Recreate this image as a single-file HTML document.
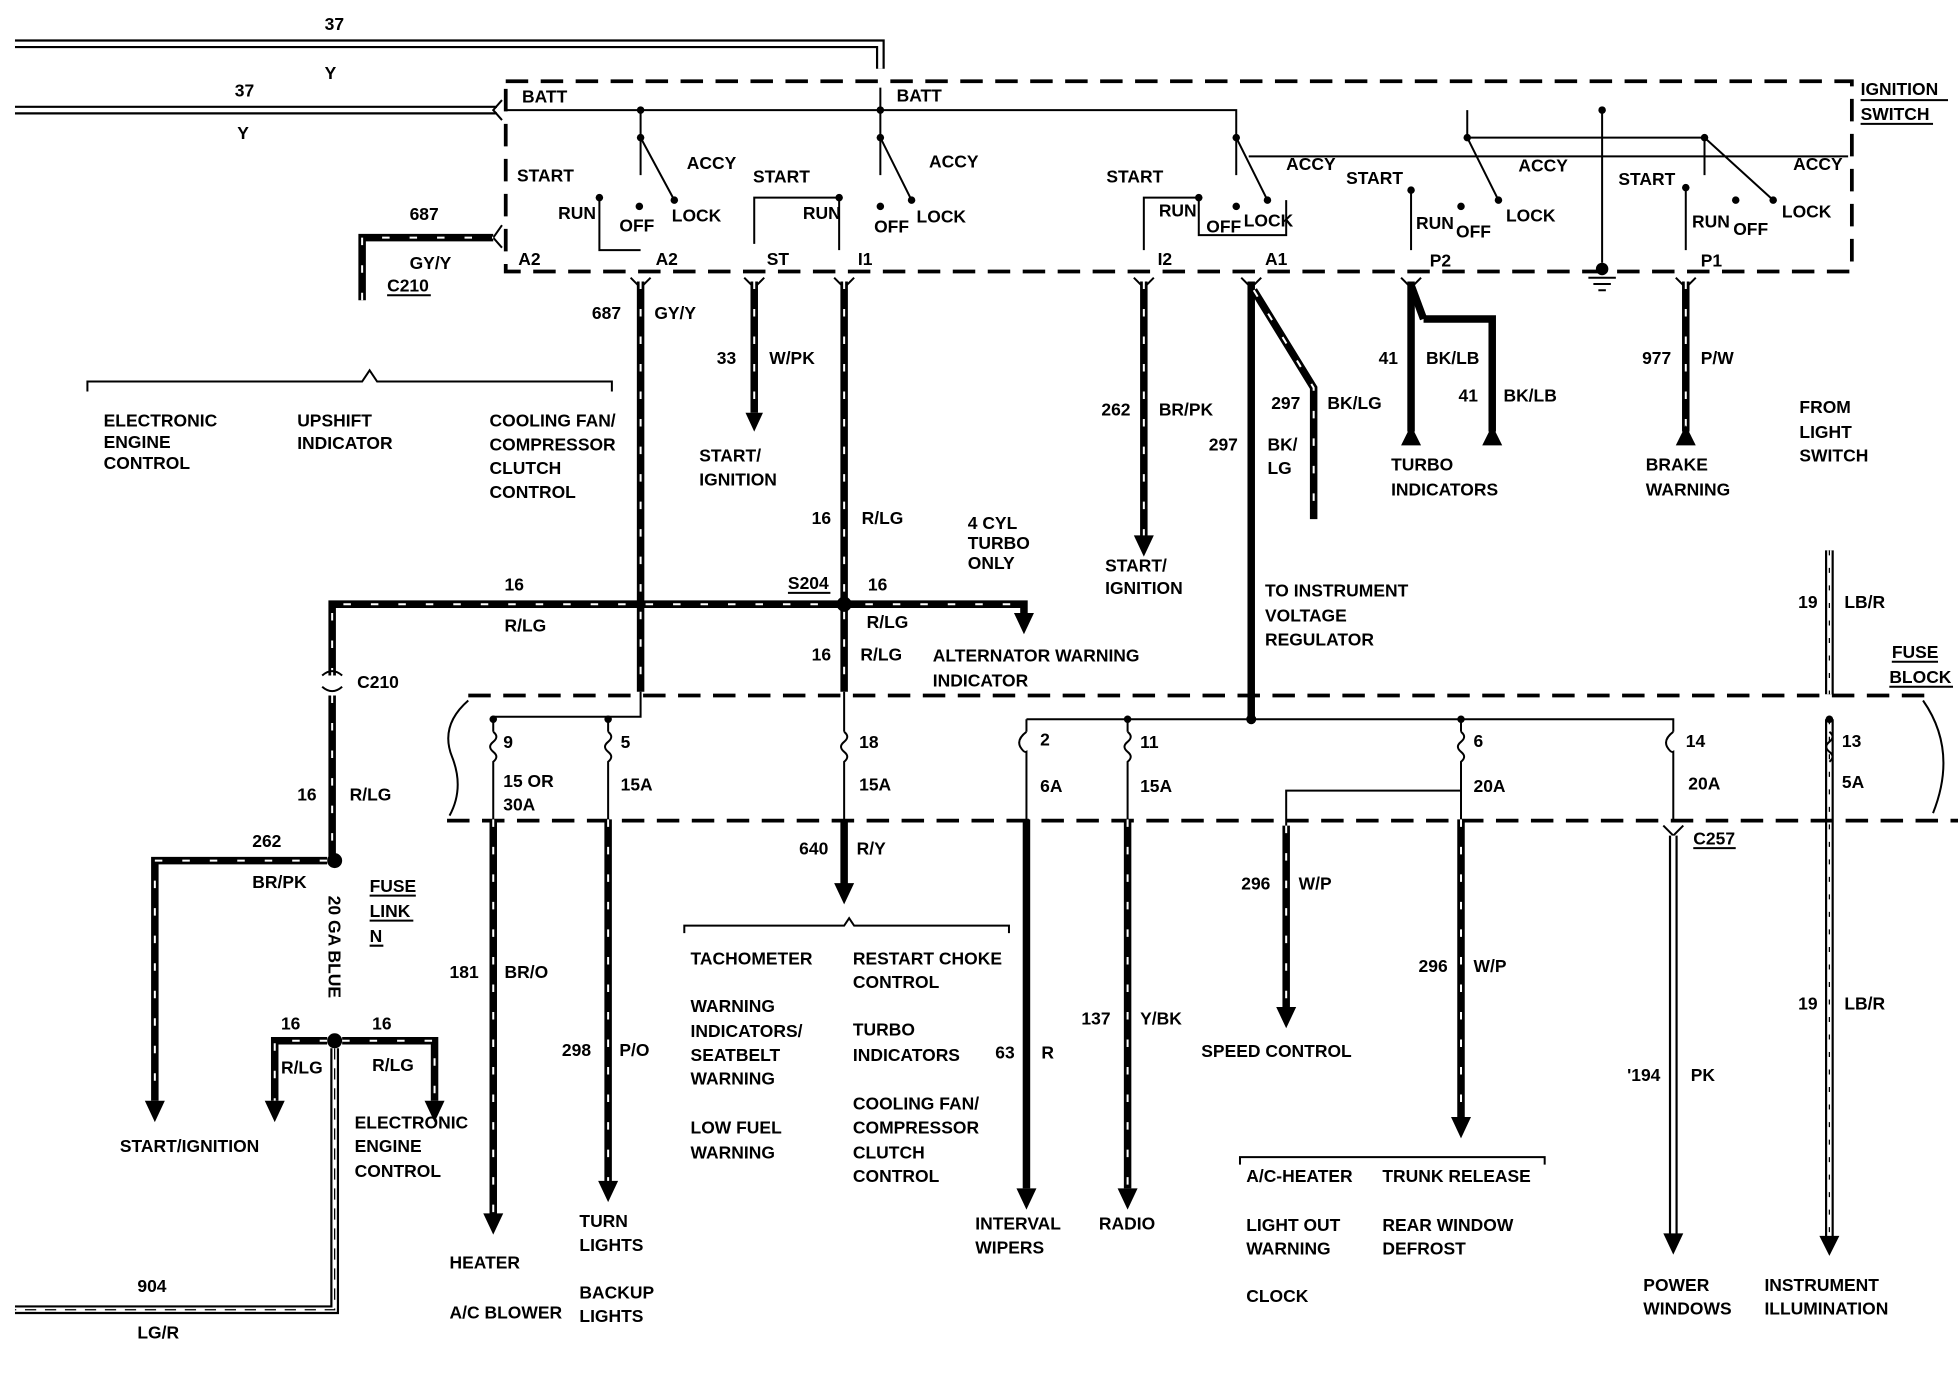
<!DOCTYPE html>
<html><head><meta charset="utf-8"><style>
html,body{margin:0;padding:0;background:#fff;}
svg{display:block;}
text{font-family:"Liberation Sans",sans-serif;font-weight:bold;font-size:14px;fill:#000;}
.w{stroke:#000;stroke-width:6;fill:none;}
.s{stroke:#fff;stroke-width:1.6;stroke-dasharray:6 16;fill:none;}
.t{stroke:#000;stroke-width:1.6;fill:none;}
.d{stroke:#000;stroke-width:3;stroke-dasharray:18 10;fill:none;}
.h{stroke:#000;stroke-width:7;fill:none;}
.hi{stroke:#fff;stroke-width:3.5;fill:none;}
</style></head><body>
<svg width="1958" height="1376" viewBox="0 0 1568 1100" preserveAspectRatio="none" xmlns="http://www.w3.org/2000/svg">
<rect width="1568" height="1100" fill="#fff"/>
<path class="h" d="M12,35 H705 V55"/><path class="hi" d="M12,35 H705 V55"/>
<path class="h" d="M12,88 H398"/><path class="hi" d="M12,88 H398"/>
<text x="260" y="24">37</text><text x="260" y="63">Y</text>
<text x="188" y="77">37</text><text x="190" y="111">Y</text>
<path class="d" d="M405,65 H1483 V217 H405 Z"/>
<text x="1490" y="76">IGNITION</text><text x="1490" y="96">SWITCH</text>
<path class="t" d="M1490,80 H1560 M1490,99 H1548"/>
<text x="418" y="82">BATT</text><text x="718" y="81">BATT</text>
<path class="t" d="M405,88 H990 V140 M705,70 V88 M513,88 V140 M705,88 V140 M1175,88 V110 H1365 V140 M1283,88 V210"/>
<path class="t" d="M513,110 L540,160 M705,110 L730,160 M990,110 L1015,160 M1175,110 L1200,160 M1365,110 L1420,160 M1000,125 H1480"/>
<g fill="#000">
<circle cx="513" cy="88" r="3"/><circle cx="705" cy="88" r="3"/><circle cx="1283" cy="88" r="3"/>
<circle cx="513" cy="110" r="3"/><circle cx="705" cy="110" r="3"/><circle cx="990" cy="110" r="3"/><circle cx="1175" cy="110" r="3"/><circle cx="1365" cy="110" r="3"/>
<circle cx="480" cy="158" r="3"/><circle cx="512" cy="165" r="3"/><circle cx="540" cy="160" r="3"/>
<circle cx="672" cy="158" r="3"/><circle cx="705" cy="165" r="3"/><circle cx="730" cy="160" r="3"/>
<circle cx="960" cy="158" r="3"/><circle cx="990" cy="165" r="3"/><circle cx="1015" cy="160" r="3"/>
<circle cx="1130" cy="152" r="3"/><circle cx="1170" cy="165" r="3"/><circle cx="1200" cy="160" r="3"/>
<circle cx="1350" cy="150" r="3"/><circle cx="1390" cy="160" r="3"/><circle cx="1420" cy="160" r="3"/>
</g>
<text x="414" y="145">START</text><text x="447" y="175">RUN</text><text x="496" y="185">OFF</text><text x="538" y="177">LOCK</text><text x="550" y="135">ACCY</text>
<text x="603" y="146">START</text><text x="643" y="175">RUN</text><text x="700" y="186">OFF</text><text x="734" y="178">LOCK</text><text x="744" y="134">ACCY</text>
<text x="886" y="146">START</text><text x="928" y="173">RUN</text><text x="966" y="186">OFF</text><text x="996" y="181">LOCK</text><text x="1030" y="136">ACCY</text>
<text x="1078" y="147">START</text><text x="1134" y="183">RUN</text><text x="1166" y="190">OFF</text><text x="1206" y="177">LOCK</text><text x="1216" y="137">ACCY</text>
<text x="1296" y="148">START</text><text x="1355" y="182">RUN</text><text x="1388" y="188">OFF</text><text x="1427" y="174">LOCK</text><text x="1436" y="136">ACCY</text>
<path class="t" d="M480,158 V200 H513 M604,195 V158 H672 M672,158 V200 M916,200 V158 H960 M960,158 V188 H1030 V160 M1130,152 V200 M1350,150 V200"/>
<text x="415" y="212">A2</text><text x="525" y="212">A2</text><text x="614" y="212">ST</text><text x="687" y="212">I1</text><text x="927" y="212">I2</text><text x="1013" y="212">A1</text><text x="1145" y="213">P2</text><text x="1362" y="213">P1</text>
<path class="t" d="M1272,222 H1294 M1276,227 H1290 M1280,232 H1286"/><circle cx="1283" cy="215" r="5" fill="#000"/>
<g class="t"><path d="M505,222 L513,230 L521,222 M596,222 L604,230 L612,222 M668,222 L676,230 L684,222 M908,222 L916,230 L924,222 M994,222 L1002,230 L1010,222 M1122,222 L1130,230 L1138,222 M1342,222 L1350,230 L1358,222 M402,180 L395,190 L402,198 M402,80 L395,88 L402,96"/></g>
<path class="w" d="M290,240 V190 H395"/><path class="s" d="M290,240 V190 H395"/>
<text x="328" y="176">687</text><text x="328" y="215">GY/Y</text><text x="310" y="233">C210</text><path class="t" d="M310,236 H345"/>
<path class="w" d="M513,225 V553"/><path class="s" d="M513,225 V553"/>
<path class="t" d="M513,553 V573 H395 V585 M487,573 V585"/>
<text x="474" y="255">687</text><text x="524" y="255">GY/Y</text>
<path class="w" d="M604,225 V330"/><path class="s" d="M604,225 V330"/><path d="M597,330 L611,330 L604,345Z" fill="#000"/>
<text x="574" y="291">33</text><text x="616" y="291">W/PK</text>
<text x="560" y="369">START/</text><text x="560" y="388">IGNITION</text>
<path class="w" d="M676,225 V553"/><path class="s" d="M676,225 V553"/>
<text x="650" y="419">16</text><text x="690" y="419">R/LG</text>
<text x="650" y="528">16</text><text x="689" y="528">R/LG</text>
<path class="w" d="M266,540 V483 H820 V490"/><path class="s" d="M266,540 V483 H820"/><path d="M812,490 L828,490 L820,507Z" fill="#000"/>
<circle cx="676" cy="483" r="6" fill="#000"/>
<text x="404" y="472">16</text><text x="404" y="505">R/LG</text>
<text x="631" y="471">S204</text><path class="t" d="M631,474 H665"/><text x="695" y="472">16</text><text x="694" y="502">R/LG</text>
<text x="775" y="423">4 CYL</text><text x="775" y="439">TURBO</text><text x="775" y="455">ONLY</text>
<text x="747" y="529">ALTERNATOR  WARNING</text><text x="747" y="549">INDICATOR</text>
<path class="t" d="M70,313 V305 H290 L296,296 L302,305 H490 V313"/>
<text x="83" y="341">ELECTRONIC</text><text x="83" y="358">ENGINE</text><text x="83" y="375">CONTROL</text>
<text x="238" y="341">UPSHIFT</text><text x="238" y="359">INDICATOR</text>
<text x="392" y="341">COOLING FAN/</text><text x="392" y="360">COMPRESSOR</text><text x="392" y="379">CLUTCH</text><text x="392" y="398">CONTROL</text>
<path class="t" d="M258,540 Q266,533 274,540 M258,549 Q266,556 274,549"/>
<text x="286" y="550">C210</text>
<path class="w" d="M266,556 V688"/><path class="s" d="M266,556 V688"/>
<text x="238" y="640">16</text><text x="280" y="640">R/LG</text>
<circle cx="268" cy="688" r="6" fill="#000"/><circle cx="268" cy="832" r="6" fill="#000"/>
<text x="263" y="716" transform="rotate(90 263 716)">20 GA BLUE</text>
<text x="296" y="713">FUSE</text><text x="296" y="733">LINK</text><text x="296" y="753">N</text><path class="t" d="M296,716 H333 M296,736 H331 M296,756 H307"/>
<path class="w" d="M262,688 H124 V880"/><path class="s" d="M262,688 H124 V880"/><path d="M116,880 L132,880 L124,897Z" fill="#000"/>
<text x="202" y="677">262</text><text x="202" y="710">BR/PK</text>
<path class="w" d="M262,832 H220 V880 M274,832 H348 V880"/><path class="s" d="M262,832 H220 V880 M274,832 H348 V880"/>
<path d="M212,880 L228,880 L220,897Z M340,880 L356,880 L348,897Z" fill="#000"/>
<text x="225" y="823">16</text><text x="298" y="823">16</text><text x="225" y="858">R/LG</text><text x="298" y="856">R/LG</text>
<text x="96" y="921">START/IGNITION</text>
<text x="284" y="902">ELECTRONIC</text><text x="284" y="921">ENGINE</text><text x="284" y="941">CONTROL</text>
<path class="h" d="M268,838 V1047 H12"/><path class="hi" d="M268,838 V1047 H12"/><path d="M268,838 V1047 H12" style="stroke:#000;stroke-width:1;stroke-dasharray:9 7;fill:none"/>
<text x="110" y="1033">904</text><text x="110" y="1070">LG/R</text>
<path class="w" d="M916,225 V430"/><path class="s" d="M916,225 V430"/><path d="M908,428 L924,428 L916,445Z" fill="#000"/>
<text x="882" y="332">262</text><text x="928" y="332">BR/PK</text>
<text x="885" y="457">START/</text><text x="885" y="475">IGNITION</text>
<path class="w" d="M1002,225 V575"/>
<path class="w" d="M1004,232 L1052,310 V415"/><path class="s" d="M1004,232 L1052,310 V415"/>
<text x="1018" y="327">297</text><text x="1063" y="327">BK/LG</text>
<text x="968" y="360">297</text><text x="1015" y="360">BK/</text><text x="1015" y="379">LG</text>
<text x="1013" y="477">TO INSTRUMENT</text><text x="1013" y="497">VOLTAGE</text><text x="1013" y="516">REGULATOR</text>
<path class="w" d="M1130,225 V345 M1140,255 H1195 V345"/><path d="M1122,356 L1138,356 L1130,340Z M1187,356 L1203,356 L1195,340Z" fill="#000"/>
<path class="w" d="M1130,228 L1140,255"/>
<text x="1104" y="291">41</text><text x="1142" y="291">BK/LB</text><text x="1168" y="321">41</text><text x="1204" y="321">BK/LB</text>
<text x="1114" y="376">TURBO</text><text x="1114" y="396">INDICATORS</text>
<path class="w" d="M1350,225 V345"/><path class="s" d="M1350,225 V345"/><path d="M1342,356 L1358,356 L1350,340Z" fill="#000"/>
<text x="1315" y="291">977</text><text x="1362" y="291">P/W</text>
<text x="1318" y="376">BRAKE</text><text x="1318" y="396">WARNING</text>
<text x="1441" y="330">FROM</text><text x="1441" y="350">LIGHT</text><text x="1441" y="369">SWITCH</text>
<path class="h" d="M1465,440 V555 M1465,575 V990"/><path class="hi" d="M1465,440 V555 M1465,575 V990"/><path d="M1465,440 V555 M1465,575 V990" style="stroke:#000;stroke-width:1;stroke-dasharray:4 10;fill:none"/><path d="M1457,988 L1473,988 L1465,1004Z" fill="#000"/>
<text x="1440" y="486">19</text><text x="1477" y="486">LB/R</text>
<text x="1440" y="807">19</text><text x="1477" y="807">LB/R</text>
<text x="1515" y="526">FUSE</text><text x="1513" y="546">BLOCK</text><path class="t" d="M1515,529 H1552 M1513,549 H1564"/>
<path class="d" d="M375,556 H1545 M358,656 H1568"/>
<path class="t" d="M375,560 Q352,580 362,605 Q372,630 360,652"/>
<path class="t" d="M1540,560 Q1568,600 1548,650"/>
<path class="t" d="M822,575 H1340 V585 M822,575 V585 M903,575 V585 M1170,575 V585 M676,553 V585"/>
<circle cx="903" cy="575" r="3" fill="#000"/><circle cx="1002" cy="575" r="4" fill="#000"/><circle cx="1170" cy="575" r="3" fill="#000"/><circle cx="1465" cy="575" r="3" fill="#000"/><circle cx="395" cy="575" r="3" fill="#000"/><circle cx="487" cy="575" r="3" fill="#000"/>
<g class="t">
<path d="M395,585 q5,4 0,8 q-5,4 0,8 q5,4 0,8 V655 M487,585 q5,4 0,8 q-5,4 0,8 q5,4 0,8 V655 M676,585 q5,4 0,8 q-5,4 0,8 q5,4 0,8 V655 M822,585 q-8,6 -5,12 q3,5 5,4 V655 M903,585 q5,4 0,8 q-5,4 0,8 q5,4 0,8 V655 M1170,585 q5,4 0,8 q-5,4 0,8 q5,4 0,8 V655 M1340,585 q-8,6 -5,12 q3,5 5,4 V655 M1465,585 q5,4 0,8 q-5,4 0,8 q5,4 0,8"/>
</g>
<text x="403" y="598">9</text><text x="403" y="629">15 OR</text><text x="403" y="648">30A</text>
<text x="497" y="598">5</text><text x="497" y="632">15A</text>
<text x="688" y="598">18</text><text x="688" y="632">15A</text>
<text x="833" y="596">2</text><text x="833" y="633">6A</text>
<text x="913" y="598">11</text><text x="913" y="633">15A</text>
<text x="1180" y="597">6</text><text x="1180" y="633">20A</text>
<text x="1350" y="597">14</text><text x="1352" y="631">20A</text>
<text x="1475" y="597">13</text><text x="1475" y="630">5A</text>
<path class="w" d="M395,655 V972"/><path class="s" d="M395,655 V972"/><path d="M387,970 L403,970 L395,987Z" fill="#000"/>
<text x="360" y="782">181</text><text x="404" y="782">BR/O</text>
<text x="360" y="1014">HEATER</text><text x="360" y="1054">A/C BLOWER</text>
<path class="w" d="M487,655 V945"/><path class="s" d="M487,655 V945"/><path d="M479,944 L495,944 L487,961Z" fill="#000"/>
<text x="450" y="844">298</text><text x="496" y="844">P/O</text>
<text x="464" y="981">TURN</text><text x="464" y="1000">LIGHTS</text><text x="464" y="1038">BACKUP</text><text x="464" y="1057">LIGHTS</text>
<path class="w" d="M676,655 V708"/><path d="M668,706 L684,706 L676,723Z" fill="#000"/>
<text x="640" y="683">640</text><text x="686" y="683">R/Y</text>
<path class="t" d="M548,746 V740 H676 L680,734 L684,740 H808 V746"/>
<text x="553" y="771">TACHOMETER</text><text x="553" y="809">WARNING</text><text x="553" y="829">INDICATORS/</text><text x="553" y="848">SEATBELT</text><text x="553" y="867">WARNING</text><text x="553" y="906">LOW FUEL</text><text x="553" y="926">WARNING</text>
<text x="683" y="771">RESTART CHOKE</text><text x="683" y="790">CONTROL</text><text x="683" y="828">TURBO</text><text x="683" y="848">INDICATORS</text><text x="683" y="887">COOLING FAN/</text><text x="683" y="906">COMPRESSOR</text><text x="683" y="926">CLUTCH</text><text x="683" y="945">CONTROL</text>
<path class="w" d="M822,655 V950"/><path d="M814,950 L830,950 L822,967Z" fill="#000"/>
<text x="797" y="846">63</text><text x="834" y="846">R</text>
<text x="781" y="983">INTERVAL</text><text x="781" y="1002">WIPERS</text>
<path class="w" d="M903,655 V950"/><path class="s" d="M903,655 V950"/><path d="M895,950 L911,950 L903,967Z" fill="#000"/>
<text x="866" y="819">137</text><text x="913" y="819">Y/BK</text><text x="880" y="983">RADIO</text>
<path class="t" d="M1030,660 V632 H1170"/>
<path class="w" d="M1030,660 V805"/><path class="s" d="M1030,660 V805"/><path d="M1022,805 L1038,805 L1030,822Z" fill="#000"/>
<text x="994" y="711">296</text><text x="1040" y="711">W/P</text><text x="962" y="845">SPEED CONTROL</text>
<path class="w" d="M1170,655 V893"/><path class="s" d="M1170,655 V893"/><path d="M1162,893 L1178,893 L1170,910Z" fill="#000"/>
<text x="1136" y="777">296</text><text x="1180" y="777">W/P</text>
<path class="t" d="M993,931 V925 H1237 V931"/>
<text x="998" y="945">A/C-HEATER</text><text x="1107" y="945">TRUNK RELEASE</text>
<text x="998" y="984">LIGHT OUT</text><text x="998" y="1003">WARNING</text><text x="998" y="1041">CLOCK</text>
<text x="1107" y="984">REAR WINDOW</text><text x="1107" y="1003">DEFROST</text>
<path class="t" d="M1332,660 L1340,668 L1348,660"/><text x="1356" y="675">C257</text><path class="t" d="M1356,678 H1390"/>
<path class="h" d="M1340,668 V988"/><path class="hi" d="M1340,668 V988"/><path d="M1332,986 L1348,986 L1340,1003Z" fill="#000"/>
<text x="1303" y="864">'194</text><text x="1354" y="864">PK</text>
<text x="1316" y="1032">POWER</text><text x="1316" y="1051">WINDOWS</text>
<text x="1413" y="1032">INSTRUMENT</text><text x="1413" y="1051">ILLUMINATION</text>
</svg>
</body></html>
